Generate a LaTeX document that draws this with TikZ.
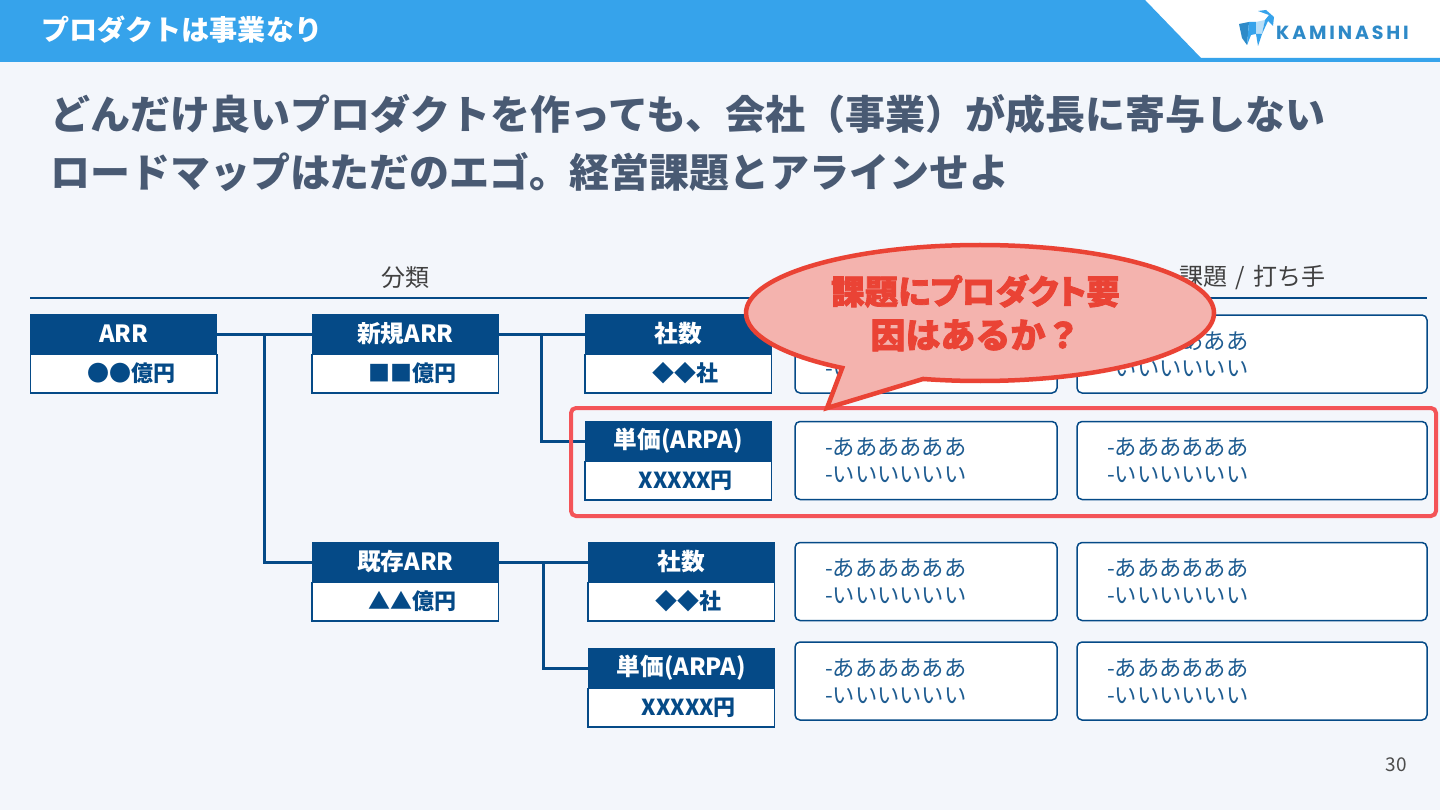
\documentclass[tikz,border=0pt]{standalone}
\usepackage{fontspec}
\setmainfont{Noto Sans CJK JP}
\newfontfamily\calloutfont[FakeBold=2.2]{Noto Sans CJK JP}
\newfontfamily\calloutpalt[FakeBold=2.2,RawFeature=+palt]{Noto Sans CJK JP}
\newfontfamily\logofont{Poppins}
\usetikzlibrary{positioning,shapes.callouts}
\definecolor{kmback}{RGB}{243,246,251}
\definecolor{kmsky}{RGB}{54,163,235}
\definecolor{kmnavy}{RGB}{5,74,135}
\definecolor{kmnote}{RGB}{30,92,145}
\definecolor{kmtitle}{RGB}{73,90,115}
\definecolor{kmred}{RGB}{234,67,53}
\definecolor{kmframe}{RGB}{243,84,88}
\definecolor{kmpink}{RGB}{244,179,174}
\tikzset{
  headbox/.style={draw=kmnavy, fill=kmnavy, text=white, line width=1pt, inner sep=0pt, minimum width=186.5pt, minimum height=40pt, font=\fontsize{23.7}{28}\selectfont\bfseries},
  valbox/.style={draw=kmnavy, fill=white, line width=1.5pt, inner sep=0pt, minimum width=186.5pt, minimum height=38.5pt},
  valtext/.style={text=kmnavy, inner sep=0pt, font=\fontsize{22}{26}\selectfont\bfseries},
  note/.style={draw=kmnavy, fill=white, line width=1.5pt, rounded corners=5pt, inner sep=0pt, minimum height=78pt, text=kmnote, align=left, font=\fontsize{22.3}{27.2}\selectfont},
  link/.style={draw=kmnavy, line width=3pt},
  heading/.style={inner sep=0pt, text=black!75, font=\fontsize{24}{28}\selectfont},
  titleline/.style={anchor=west, inner sep=0pt, text=kmtitle, font=\fontsize{40}{46}\selectfont\bfseries}
}
\begin{document}
\begin{tikzpicture}[x=1pt,y=-1pt]
  \useasboundingbox (0,0) rectangle (1440,810);
  \fill[kmback] (0,0) rectangle (1440,810);
  % top band
  \fill[white] (1100,0) rectangle (1440,58);
  \fill[kmsky] (0,0) -- (1145,0) -- (1201,58) -- (1440,58) -- (1440,62) -- (0,62) -- cycle;
  \node[anchor=west, inner sep=0pt, text=white, font=\fontsize{28.1}{32}\selectfont\bfseries] (band) at (41,30) {プロダクトは事業なり};
  % logo
  \fill[kmsky!85!black] (1239,24) -- (1249,22) -- (1247,45) -- (1242,38) -- cycle;
  \fill[kmsky] (1249,22) -- (1256,22) -- (1256,34) -- (1251,35) -- (1247,45) -- cycle;
  \fill[kmsky!35] (1256,22) -- (1265,20) -- (1262,34) -- (1256,34) -- cycle;
  \fill[kmsky] (1262,34) -- (1256,34) -- (1258,46) -- cycle;
  \fill[kmsky] (1265,20) -- (1269,15) -- (1258,11) -- (1266,10) -- (1274,17) -- (1273,26) -- (1268,21) -- (1262,34) -- cycle;
  \node[anchor=west, inner sep=0pt, text=kmsky!85!black, font=\logofont\fontsize{19}{22}\selectfont\bfseries] (logo) at (1276,32.5) {\addfontfeature{LetterSpace=15}KAMINASHI};
  % title
  \node[titleline] (t1) at (50.5,114) {どんだけ良いプロダクトを作っても、会社（事業）が成長に寄与しない};
  \node[titleline] (t2) at (50.5,172) {ロードマップはただのエゴ。経営課題とアラインせよ};
  % column headings
  \node[heading] (cat) at (405,278) {分類};
  \node[heading] (act) at (1252.5,278) {\spaceskip=8pt 課題 / 打ち手};
  \coordinate (ruleL) at (30,298);
  \coordinate (ruleR) at (1427,298);
  \draw[kmnavy, line width=1.5pt] (ruleL) -- (ruleR);
  % tree boxes
  \foreach \n/\x/\y/\h/\v in {arr/123.7/334/ARR/●●億円,new/405.3/334/新規ARR/■■億円,newc/678.3/334/社数/◆◆社,newp/678.3/441/単価(ARPA)/XXXXX円,old/405.3/562/既存ARR/▲▲億円,oldc/681.3/562/社数/◆◆社,oldp/681.3/668/単価(ARPA)/XXXXX円}{
    \node[valbox] (\n v) at (\x,\y+39.5) {};
    \node[headbox] (\n) at (\x,\y) {\raisebox{-1.5pt}{\h}};
    \node[valtext, xshift=7.5pt] (\n t) at (\n v) {\v};
  }
  % connectors
  \coordinate (arrj) at (264.5,334);
  \coordinate (newj) at (541,334);
  \coordinate (oldj) at (543.5,562);
  \foreach \a/\b in {arr/new,new/newc,old/oldc}{\draw[link] (\a) -- (\b);}
  \draw[link] (arrj) |- (old);
  \draw[link] (newj) |- (newp);
  \draw[link] (oldj) |- (oldp);
  % notes
  \foreach \n/\y in {a/354,b/460.5,c/581.5,d/681}{
    \node[note, minimum width=262pt, text width=202pt] (\n1) at (926,\y) {-ああああああ\\-いいいいいい};
    \node[note, minimum width=350pt, text width=290pt] (\n2) at (1252,\y) {-ああああああ\\-いいいいいい};
  }
  % highlight and callout
  \node[draw=kmframe, line width=4pt, rounded corners=5pt, inner sep=0pt, minimum width=865pt, minimum height=108pt] (hilite) at (1003.5,462) {};
  \node[ellipse callout, draw=kmred, fill=kmpink, line width=4.5pt, inner sep=0pt, minimum width=468pt, minimum height=136pt, callout absolute pointer={(827,408)}, callout pointer arc=22] (bubble) at (980,313) {};
  \node[inner sep=0pt, align=center, text=kmred, font=\fontsize{33.5}{44}\selectfont\bfseries] (bubbletext) at (975.5,313) {{\calloutpalt 課題にプロダクト要}\\{\fontsize{35}{44}\selectfont\calloutfont 因はあるか？}};
  % page number
  \node[inner sep=0pt, text=black!70, font=\fontsize{19}{23}\selectfont] (page) at (1396,765) {30};
\end{tikzpicture}
\end{document}
